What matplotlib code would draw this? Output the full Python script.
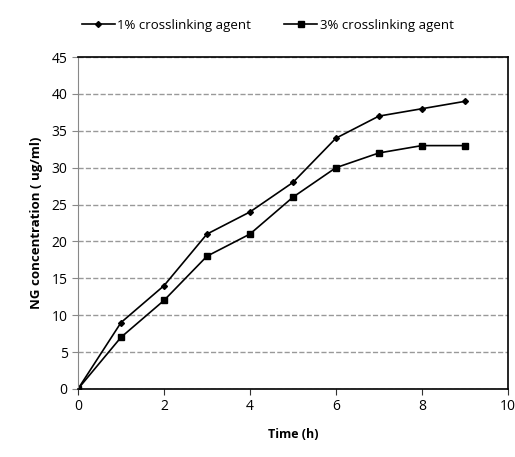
import numpy as np
import matplotlib.pyplot as plt

plt.rcParams['font.family'] = ['Open Sans', 'DejaVu Sans']

time_h = [0, 1, 2, 3, 4, 5, 6, 7, 8, 9]
ng_1pct = [0, 9, 14, 21, 24, 28, 34, 37, 38, 39]
ng_3pct = [0, 7, 12, 18, 21, 26, 30, 32, 33, 33]

fig = plt.figure(figsize=(5.15, 4.57), dpi=100)
ax = fig.add_axes([0.1515, 0.149, 0.8345, 0.726])

ax.plot(time_h, ng_1pct, color='black', lw=1.2, marker='D', ms=3, label='1% crosslinking agent')
ax.plot(time_h, ng_3pct, color='black', lw=1.2, marker='s', ms=5, label='3% crosslinking agent')

ax.set_xlim(0, 10)
ax.set_ylim(0, 45)
ax.set_xticks(range(0, 11, 2))
ax.set_yticks(range(0, 46, 5))
ax.yaxis.grid(True, linestyle='--', color='#999999', lw=1)
ax.set_axisbelow(True)
ax.spines['left'].set_color('#888888')
for s in ['top', 'right', 'bottom']:
    ax.spines[s].set_color('black')
    ax.spines[s].set_linewidth(1.2)
ax.tick_params(axis='both', labelsize=10, length=4, color='#333333')
ax.tick_params(axis='y', color='#888888')

ax.set_xlabel('Time (h)', fontsize=9, fontweight='bold', labelpad=10)
ax.set_ylabel('NG concentration ( ug/ml)', fontsize=9.5, fontweight='bold', labelpad=6)

fig.legend(loc='upper center', bbox_to_anchor=(0.52, 0.985), ncol=2, frameon=False,
           fontsize=9.5, handlelength=2.5, handletextpad=0.2, columnspacing=2.5)

fig.savefig('out.png')
